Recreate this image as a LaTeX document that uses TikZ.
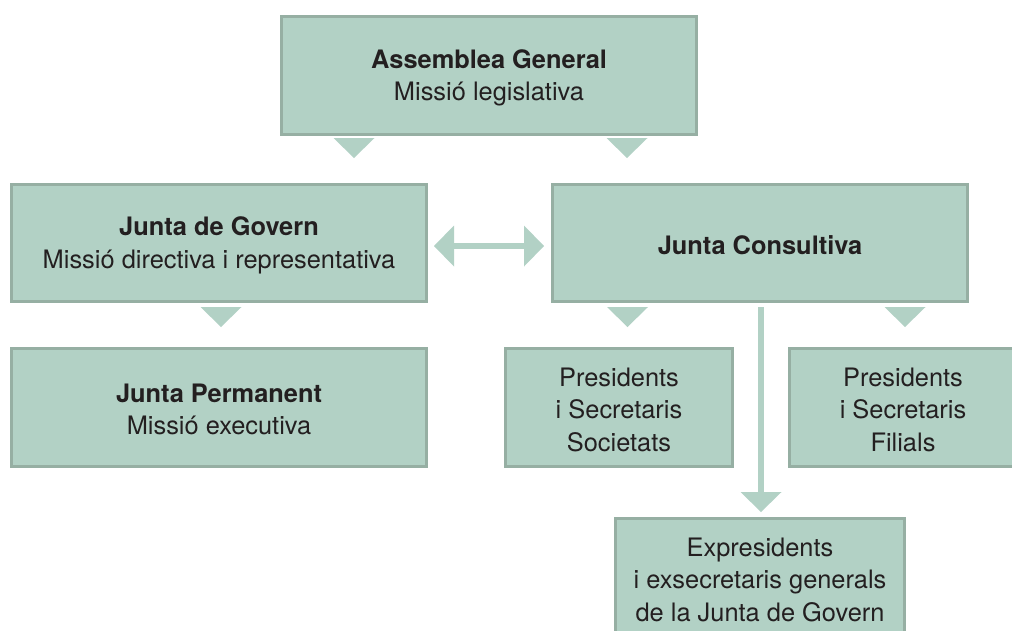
\documentclass[tikz,border=0pt]{standalone}
\usepackage{fontspec}
\setmainfont{TeX Gyre Heros}
\usetikzlibrary{arrows.meta,calc}
\definecolor{boxfill}{HTML}{B2D1C5}
\definecolor{boxline}{HTML}{96AFA3}
\definecolor{ink}{HTML}{231F20}
\newcommand{\lnstrut}{\rule[-2pt]{0pt}{26pt}}
\tikzset{
  box/.style={draw=boxline, fill=boxfill, line width=3pt, text=ink, align=center,
    inner sep=0pt, font=\fontsize{25.4}{32.5}\selectfont},
  conn/.style={color=boxfill, line width=6pt, -{Triangle[width=41pt,length=20pt,line width=0pt]}},
  conntwo/.style={color=boxfill, line width=6pt,
    {Triangle[width=41pt,length=20pt,line width=0pt]}-{Triangle[width=41pt,length=20pt,line width=0pt]}},
  flowtri/.style={fill=boxfill, draw=none},
}
\begin{document}
\begin{tikzpicture}[x=1pt,y=-1pt]
\useasboundingbox (0,0) rectangle (1012,630);
\fill[white] (0,0) rectangle (1012,630);
\clip (0,0) rectangle (1012,630);

\node[box, minimum width=415pt, minimum height=118pt] (ag) at (489,75.5)
  {\lnstrut\textbf{Assemblea General}\\Missió legislativa\lnstrut};
\node[box, minimum width=415pt, minimum height=117pt] (gov) at (219,243)
  {\lnstrut\textbf{Junta de Govern}\\Missió directiva i representativa\lnstrut};
\node[box, minimum width=415pt, minimum height=117pt] (con) at (760,243)
  {\lnstrut\textbf{Junta Consultiva}\lnstrut};
\node[box, minimum width=415pt, minimum height=118pt] (perm) at (219,407.5)
  {\lnstrut\textbf{Junta Permanent}\\Missió executiva\lnstrut};
\node[box, minimum width=227pt, minimum height=118pt] (soc) at (619,407.5)
  {\lnstrut Presidents\\i Secretaris\\Societats\lnstrut};
\node[box, minimum width=227pt, minimum height=118pt] (fil) at (903,407.5)
  {\lnstrut Presidents\\i Secretaris\\Filials\lnstrut};
\node[box, minimum width=289pt, minimum height=118pt] (exp) at (760,577.5)
  {\lnstrut Expresidents\\i exsecretaris generals\\de la Junta de Govern\lnstrut};

% flow triangles
\fill[flowtri] (333.5,138) -- (374.5,138) -- (354,158) -- cycle;
\fill[flowtri] (606.5,138) -- (647.5,138) -- (627,158) -- cycle;
\fill[flowtri] (200.5,307) -- (241.5,307) -- (221,327) -- cycle;
\fill[flowtri] (607,307) -- (648,307) -- (627.5,327) -- cycle;
\fill[flowtri] (884.5,307) -- (925.5,307) -- (905,327) -- cycle;

% connectors
\draw[conntwo, shorten <=6pt, shorten >=7pt] ($(gov.east)+(0,3)$) -- ($(con.west)+(0,3)$);
\draw[conn, shorten <=4pt, shorten >=5pt] ($(con.south)+(1,0)$) -- ($(exp.north)+(1,0)$);
\end{tikzpicture}
\end{document}
